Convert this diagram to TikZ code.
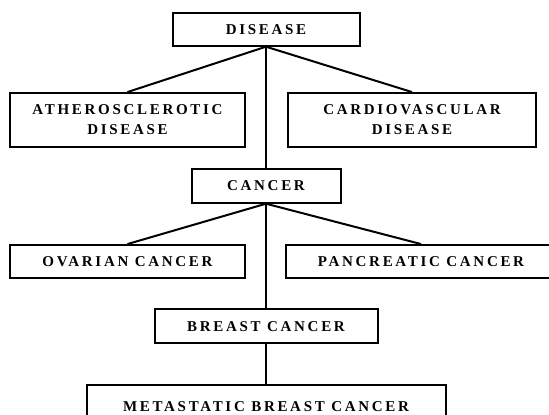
\documentclass[tikz,border=0pt]{standalone}
\usepackage{fontspec}
\setmainfont{Liberation Serif}
\newfontfamily\boxfont{Liberation Serif}[LetterSpace=18]
\begin{document}
\begin{tikzpicture}[x=1pt,y=-1pt,
  box/.style={draw, line width=2pt, inner sep=0pt, align=center,
    font=\boxfont\bfseries\fontsize{15}{20}\selectfont},
  link/.style={line width=2pt}]
\useasboundingbox (0,0) rectangle (549,415);
\clip (0,0) rectangle (549,415);

% boxes of the hierarchy
\node[box, minimum width=187, minimum height=32.4] (disease) at (266,29.5) {DISEASE};
\node[box, minimum width=235, minimum height=53.5] (athero) at (127.5,119.8) {ATHEROSCLEROTIC\\DISEASE};
\node[box, minimum width=248, minimum height=53.5] (cardio) at (412,119.8) {CARDIOVASCULAR\\DISEASE};
\node[box, minimum width=149, minimum height=33.4] (cancer) at (266,186) {CANCER};
\node[box, minimum width=235, minimum height=33.3] (ovarian) at (127.5,261.7) {OVARIAN CANCER};
\node[box, minimum width=270, minimum height=33.3] (pancreatic) at (421,261.7) {PANCREATIC CANCER};
\node[box, minimum width=223, minimum height=33.7] (breast) at (266,326.2) {BREAST CANCER};
\node[box, minimum width=359, minimum height=45] (meta) at (266,407) {METASTATIC BREAST CANCER};

% connectors
\draw[link] (disease.south) -- (athero.north);
\draw[link] (disease.south) -- (cardio.north);
\draw[link] (disease.south) -- (cancer.north);
\draw[link] (cancer.south) -- (ovarian.north);
\draw[link] (cancer.south) -- (pancreatic.north);
\draw[link] (cancer.south) -- (breast.north);
\draw[link] (breast.south) -- (meta.north);
\end{tikzpicture}
\end{document}
